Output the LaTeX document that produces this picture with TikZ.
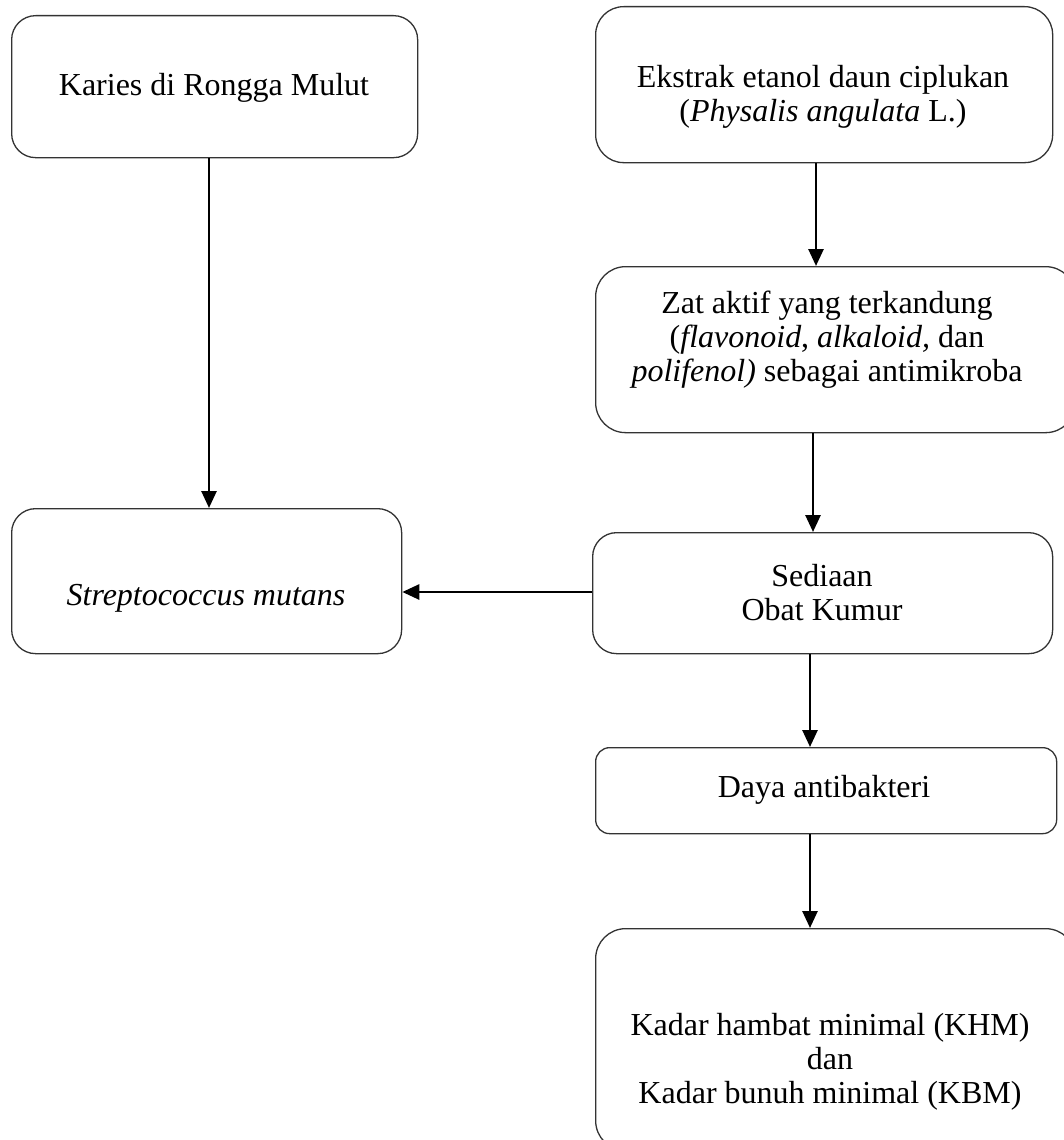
\documentclass[tikz,border=0pt]{standalone}
\usepackage{fontspec}
\setmainfont{Liberation Serif}
\usetikzlibrary{arrows.meta}
\begin{document}
\begin{tikzpicture}[x=1pt,y=-1pt,
  box/.style={draw=black!80, line width=1.3pt, rounded corners=#1, anchor=north west, inner sep=0pt},
  box/.default=24pt,
  txt/.style={align=center, font=\fontsize{32}{34}\selectfont, inner sep=0pt},
  arr/.style={line width=2.7pt, -{Triangle[length=17pt,width=15pt]}}]
\useasboundingbox (0,0) rectangle (1063,1140);
% boxes
\node[box, minimum width=406pt, minimum height=142pt] (karies) at (11,15) {};
\node[box=28pt, minimum width=457pt, minimum height=156pt] (ekstrak) at (595,6) {};
\node[box=30pt, minimum width=480pt, minimum height=166pt] (zat) at (595,266) {};
\node[box, minimum width=390pt, minimum height=145pt] (strep) at (11,508) {};
\node[box, minimum width=460pt, minimum height=121pt] (sediaan) at (592,532) {};
\node[box=14pt, minimum width=461pt, minimum height=86pt] (daya) at (595,747) {};
\node[box=30pt, minimum width=480pt, minimum height=222pt] (kadar) at (595,928) {};
% texts
\node[txt] (tkaries) at (214,88) {Karies di Rongga Mulut};
\node[txt] (tekstrak) at (823,97) {Ekstrak etanol daun ciplukan\\(\textit{Physalis angulata} L.)};
\node[txt] (tzat) at (827,340) {Zat aktif yang terkandung\\(\textit{flavonoid}, \textit{alkaloid,} dan\\\textit{polifenol)} sebagai antimikroba};
\node[txt] (tstrep) at (206,598) {\textit{Streptococcus mutans}};
\node[txt] (tsediaan) at (822,593) {Sediaan\\Obat Kumur};
\node[txt] (tdaya) at (824,790) {Daya antibakteri};
\node[txt] (tkadar) at (830,1062) {Kadar hambat minimal (KHM)\\dan\\Kadar bunuh minimal (KBM)};
% connectors
\coordinate (a1) at (209,0);
\coordinate (a2) at (816,0);
\coordinate (a3) at (813,0);
\coordinate (a4) at (810,0);
\coordinate (h1) at (0,592);
\draw[arr] (karies.south -| a1) -- (strep.north -| a1);
\draw[arr] (ekstrak.south -| a2) -- (zat.north -| a2);
\draw[arr] (zat.south -| a3) -- (sediaan.north -| a3);
\draw[arr] (sediaan.west |- h1) -- (strep.east |- h1);
\draw[arr] (sediaan.south -| a4) -- (daya.north -| a4);
\draw[arr] (daya.south -| a4) -- (kadar.north -| a4);
\end{tikzpicture}
\end{document}
